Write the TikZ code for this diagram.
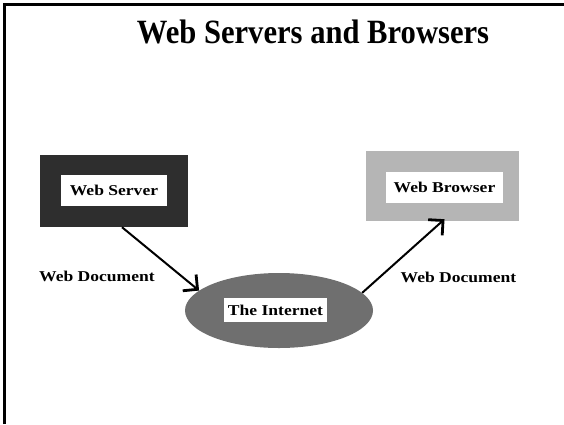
\documentclass[tikz,border=0pt]{standalone}
\usepackage{fontspec}
\setmainfont{Liberation Serif}
\newfontfamily\lblfont{Liberation Serif}[FakeStretch=1.17]
\newfontfamily\ttlfont{Liberation Serif}[FakeStretch=0.9]
\usetikzlibrary{shapes.geometric,arrows.meta}
\definecolor{srvdark}{HTML}{2E2E2E}
\definecolor{brwgray}{HTML}{B5B5B5}
\definecolor{netgray}{HTML}{6F6F6F}
\tikzset{
  outerbox/.style={rectangle, inner sep=0pt, draw=none},
  innerlbl/.style={rectangle, fill=white, inner sep=0pt, font=\lblfont\fontsize{15}{15}\selectfont\bfseries},
  doclbl/.style={inner sep=0pt, anchor=base, font=\lblfont\fontsize{15}{15}\selectfont\bfseries},
  flow/.style={line width=2pt, -{Straight Barb[length=10.5pt,width=21pt,line width=2.8pt]}},
}
\begin{document}
\begin{tikzpicture}[x=1pt,y=-1pt]
\useasboundingbox (0,0) rectangle (564,424);
% frame
\draw[line width=3pt] (4,424) -- (4,4) -- (564,4);
% title
\node[inner sep=0pt, anchor=base, font=\ttlfont\fontsize{34}{34}\selectfont\bfseries] (title) at (313,43) {Web Servers and Browsers};
% server
\node[outerbox, fill=srvdark, minimum width=148pt, minimum height=72pt] (server) at (114,191) {};
\node[innerlbl, minimum width=106pt, minimum height=31pt] (serverlbl) at (114,190.5) {Web Server};
% browser
\node[outerbox, fill=brwgray, minimum width=153pt, minimum height=70pt] (browser) at (442.5,186) {};
\node[innerlbl, minimum width=117pt, minimum height=31pt] (browserlbl) at (444.5,187.5) {Web Browser};
% internet
\node[ellipse, fill=netgray, inner sep=0pt, minimum width=188pt, minimum height=75pt] (inet) at (279,310.5) {};
\node[innerlbl, minimum width=103pt, minimum height=24pt] (inetlbl) at (275.5,310) {The Internet};
% labels
\node[doclbl] (doc1) at (97,281) {Web Document};
\node[doclbl] (doc2) at (458.5,282) {Web Document};
% arrows
\draw[flow] ([xshift=8pt]server.south) -- (inet.166);
\draw[flow] (inet.12) -- ([yshift=2pt,xshift=2pt]browser.south);
\end{tikzpicture}
\end{document}
